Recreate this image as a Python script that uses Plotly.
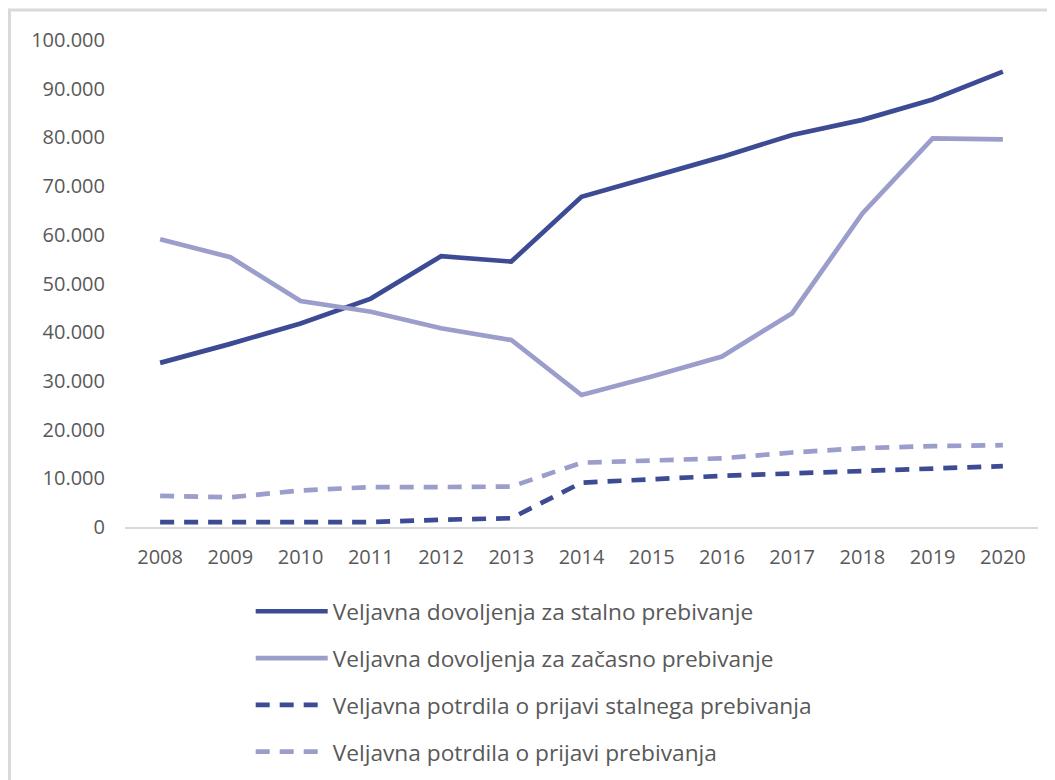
import plotly.graph_objects as go

years = ["2008", "2009", "2010", "2011", "2012", "2013", "2014",
         "2015", "2016", "2017", "2018", "2019", "2020"]

stalno = [33700, 37600, 41800, 46900, 55600, 54500, 67800,
          71800, 76000, 80500, 83600, 87800, 93500]
zacasno = [59100, 55400, 46400, 44200, 40800, 38400, 27100,
           30900, 35000, 43900, 64400, 79800, 79600]
potrdila_stalno = [1000, 1000, 1000, 1000, 1500, 1800, 9100,
                   9900, 10500, 11000, 11500, 12000, 12500]
potrdila = [6400, 6100, 7500, 8200, 8200, 8300, 13200,
            13600, 14100, 15300, 16200, 16600, 16800]

names = [
    "Veljavna dovoljenja za stalno prebivanje",
    "Veljavna dovoljenja za začasno prebivanje",
    "Veljavna potrdila o prijavi stalnega prebivanja",
    "Veljavna potrdila o prijavi prebivanja",
]

y_ticks = list(range(0, 100001, 10000))
y_labels = ["0" if v == 0 else f"{v // 1000}.000" for v in y_ticks]

DARK = "#3d4a94"
LIGHT = "#9b9dcb"
TEXT = "#595959"
FONT = "Open Sans"

series = [
    (stalno, DARK, "solid"),
    (zacasno, LIGHT, "solid"),
    (potrdila_stalno, DARK, "14px,10px"),
    (potrdila, LIGHT, "14px,10px"),
]

W, H = 1047, 772
ML, MR, MT, MB = 117, 17, 32, 253
PW = W - ML - MR
PH = H - MT - MB

fig = go.Figure()
for i, (vals, col, dash) in enumerate(series):
    fig.add_trace(go.Scatter(
        x=years, y=vals, mode="lines", name=names[i],
        legendgroup=f"g{i}",
        line=dict(color=col, width=4.7, dash=dash),
        hoverinfo="skip",
    ))

fig.update_layout(
    width=W, height=H,
    margin=dict(l=ML, r=MR, t=MT, b=MB),
    paper_bgcolor="white", plot_bgcolor="white",
    font=dict(family=FONT, size=20, color=TEXT),
    showlegend=True,
    legend=dict(
        orientation="v", x=0.13 + 7 / PW, xanchor="left",
        yref="container", y=1 - 582 / H, yanchor="top",
        font=dict(family=FONT, size=22.7, color=TEXT),
        itemwidth=72, tracegroupgap=14.3,
        bgcolor="rgba(0,0,0,0)",
    ),
    xaxis=dict(
        type="category", showgrid=False, zeroline=False,
        showline=True, linecolor="#d9d9d9", linewidth=2,
        ticks="", tickfont=dict(family=FONT, size=20, color=TEXT),
        ticklabelstandoff=11,
        range=[-0.5, 12.5],
    ),
    yaxis=dict(
        range=[0, 100000], tickvals=y_ticks, ticktext=y_labels,
        showgrid=False, zeroline=False, showline=False, ticks="",
        tickfont=dict(family=FONT, size=20, color=TEXT),
        ticklabelstandoff=19,
    ),
    shapes=[
        dict(type="line", xref="paper", yref="paper",
             x0=(0 - ML) / PW, x1=(W + 5 - ML) / PW,
             y0=(MT + PH - 2) / PH, y1=(MT + PH - 2) / PH,
             line=dict(color="#d9d9d9", width=3)),
        dict(type="line", xref="paper", yref="paper",
             x0=(1.5 - ML) / PW, x1=(1.5 - ML) / PW,
             y0=(MT + PH - 2) / PH, y1=(MT + PH - H - 10) / PH,
             line=dict(color="#d9d9d9", width=3)),
    ],
)

fig.write_html("out.html")
